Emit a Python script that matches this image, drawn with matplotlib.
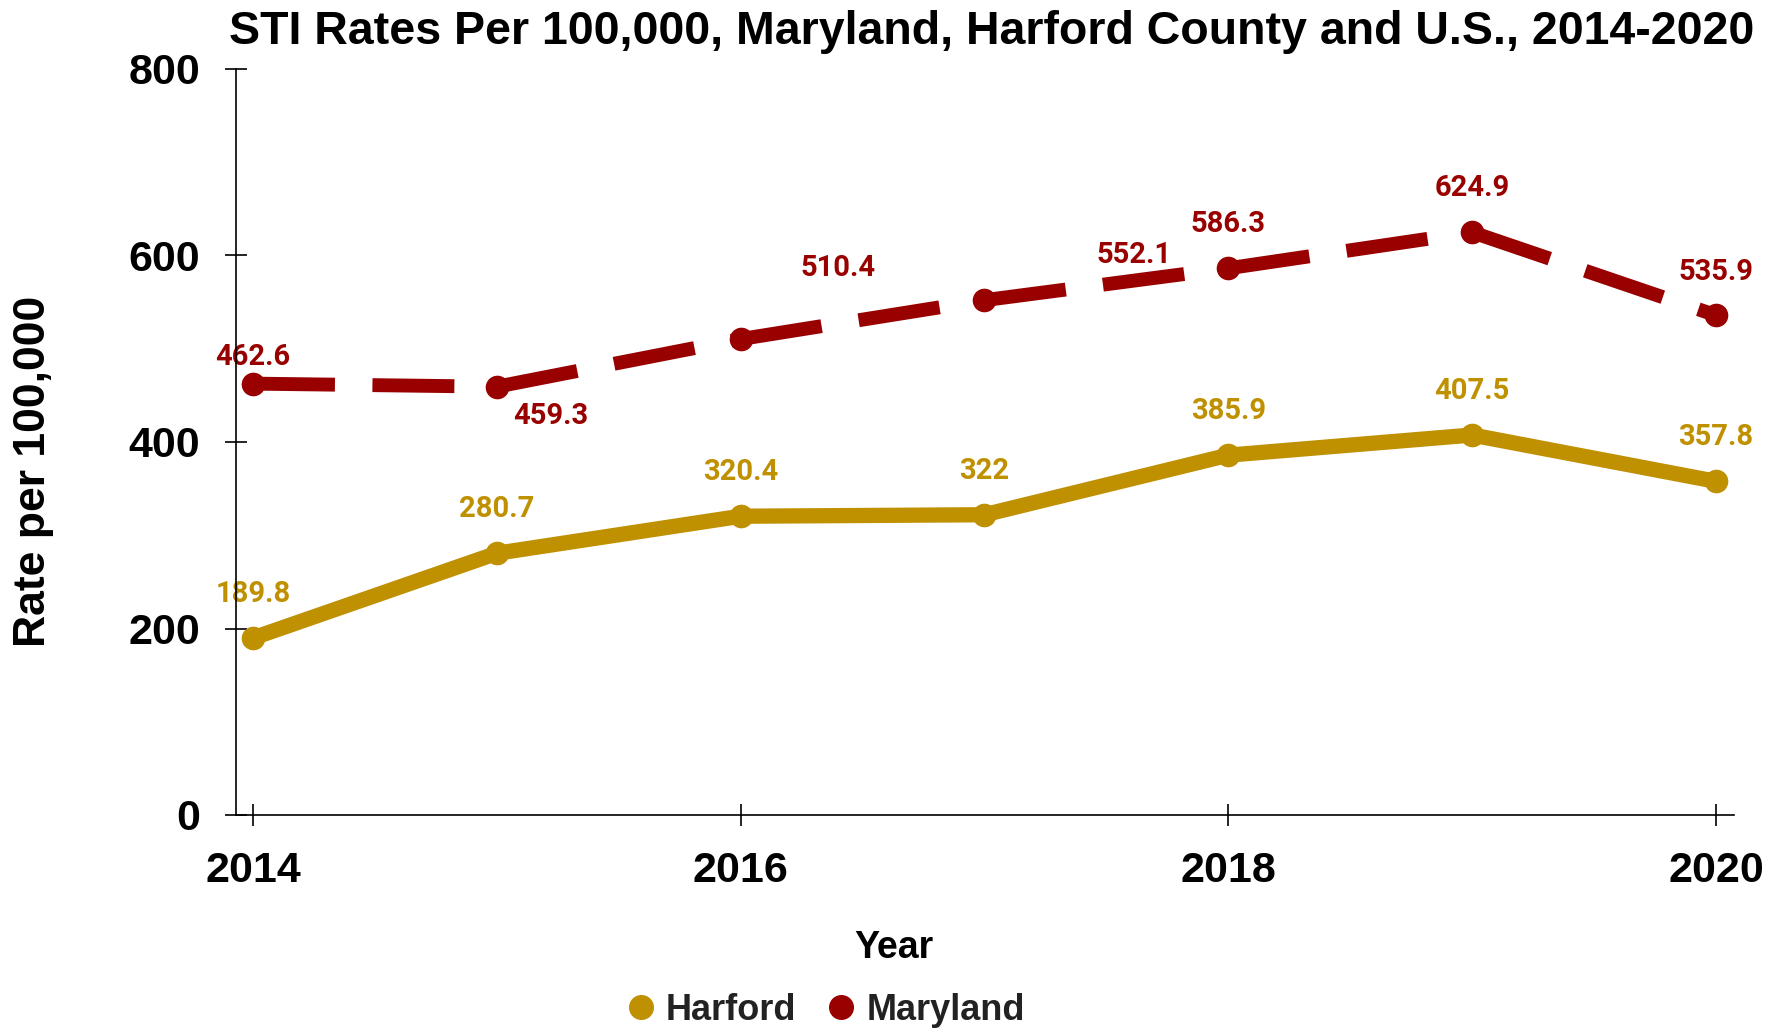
import matplotlib
matplotlib.use("Agg")
import matplotlib.pyplot as plt
from matplotlib.lines import Line2D

# data
years = [2014, 2015, 2016, 2017, 2018, 2019, 2020]
harford = [189.8, 280.7, 320.4, 322, 385.9, 407.5, 357.8]
maryland = [462.6, 459.3, 510.4, 552.1, 586.3, 624.9, 535.9]
harford_labels = ["189.8", "280.7", "320.4", "322", "385.9", "407.5", "357.8"]
maryland_labels = ["462.6", "459.3", "510.4", "552.1", "586.3", "624.9", "535.9"]
y_ticks = [0, 200, 400, 600, 800]
x_ticks = [2014, 2016, 2018, 2020]

gold = "#BF9000"
red = "#990000"

# label offsets in pixels (dx, dy), picked to match the reference placement
harford_offsets = [(0, 44), (0, 44), (0, 44), (0, 44), (0, 44), (0, 44), (0, 44)]
maryland_offsets = [(0, 27), (54, -29), (97, 71), (150, 45), (0, 44), (0, 44), (0, 43)]

fig = plt.figure(figsize=(17.7, 10.29), dpi=100)
ax = fig.add_axes([236 / 1770, 1 - 815 / 1029, (1734 - 236) / 1770, (815 - 69) / 1029])

ax.plot(years, harford, color=gold, lw=11, marker="o", ms=16,
        solid_capstyle="round", solid_joinstyle="round", zorder=3)

# maryland dashes restart at every point, so draw segment by segment
for i in range(len(years) - 1):
    ax.plot(years[i:i + 2], maryland[i:i + 2], color=red, lw=10,
            dashes=(5.9, 2.7), dash_capstyle="butt", zorder=3)
ax.plot(years, maryland, color=red, lw=0, marker="o", ms=16, zorder=4)

# labels sit under the lines so the thin leader lines hide behind the markers
label_kw = dict(family=["Roboto", "DejaVu Sans"], fontweight="bold", fontsize=21)
for x, y, t, (dx, dy) in zip(years, harford, harford_labels, harford_offsets):
    ax.annotate(t, (x, y), xytext=(dx, dy), textcoords="offset pixels",
                ha="center", va="center", color=gold,
                arrowprops=dict(arrowstyle="-", color="#e0e0e0", lw=0.8,
                                shrinkA=14, shrinkB=0), zorder=2, **label_kw)
for x, y, t, (dx, dy) in zip(years, maryland, maryland_labels, maryland_offsets):
    arrow = None
    if dx == 0:
        arrow = dict(arrowstyle="-", color="#e0e0e0", lw=0.8, shrinkA=14, shrinkB=0)
    ax.annotate(t, (x, y), xytext=(dx, dy), textcoords="offset pixels",
                ha="center", va="center", color=red,
                arrowprops=arrow, zorder=2, **label_kw)

ax.set_xlim(2014 - 17 / 243.83, 2020 + 18 / 243.83)
ax.set_ylim(0, 800)
ax.set_xticks(x_ticks)
ax.set_yticks(y_ticks)
ax.set_xticklabels([str(v) for v in x_ticks])
ax.set_yticklabels([str(v) for v in y_ticks])

for s in ["top", "right"]:
    ax.spines[s].set_visible(False)
for s in ["left", "bottom"]:
    ax.spines[s].set_linewidth(1.2)
    ax.spines[s].set_color("black")
ax.tick_params(axis="both", direction="inout", length=16, width=1.2, color="black")
ax.tick_params(axis="y", pad=18)
ax.tick_params(axis="x", pad=18)
for lab in ax.get_xticklabels() + ax.get_yticklabels():
    lab.set_fontfamily(["Liberation Sans", "DejaVu Sans"])
    lab.set_fontweight("bold")
    lab.set_fontsize(31)

fig.text(0.5605, 1 - 10 / 1029, "STI Rates Per 100,000, Maryland, Harford County and U.S., 2014-2020",
         ha="center", va="top", fontsize=33.5, fontweight="bold",
         family=["Liberation Sans Narrow", "Liberation Sans", "DejaVu Sans"])
fig.text(34 / 1770, 1 - 471 / 1029, "Rate per 100,000", rotation=90, ha="center", va="center",
         fontsize=32, fontweight="bold", family=["Liberation Sans", "DejaVu Sans"])
fig.text(894 / 1770, 1 - 948 / 1029, "Year", ha="center", va="center",
         fontsize=27, fontweight="bold", family=["Liberation Sans", "DejaVu Sans"])

handles = [Line2D([], [], color=gold, marker="o", lw=0, ms=17),
           Line2D([], [], color=red, marker="o", lw=0, ms=17)]
leg = fig.legend(handles, ["Harford", "Maryland"], loc="center", bbox_to_anchor=(0.4665, 1 - 1010 / 1029),
                 ncol=2, frameon=False, handlelength=0.8, handletextpad=0.3, columnspacing=0.85,
                 prop={"family": ["Liberation Sans", "DejaVu Sans"], "weight": "bold", "size": 26})
for t in leg.get_texts():
    t.set_color("#222222")

fig.savefig("out.png", dpi=100, facecolor="white")
